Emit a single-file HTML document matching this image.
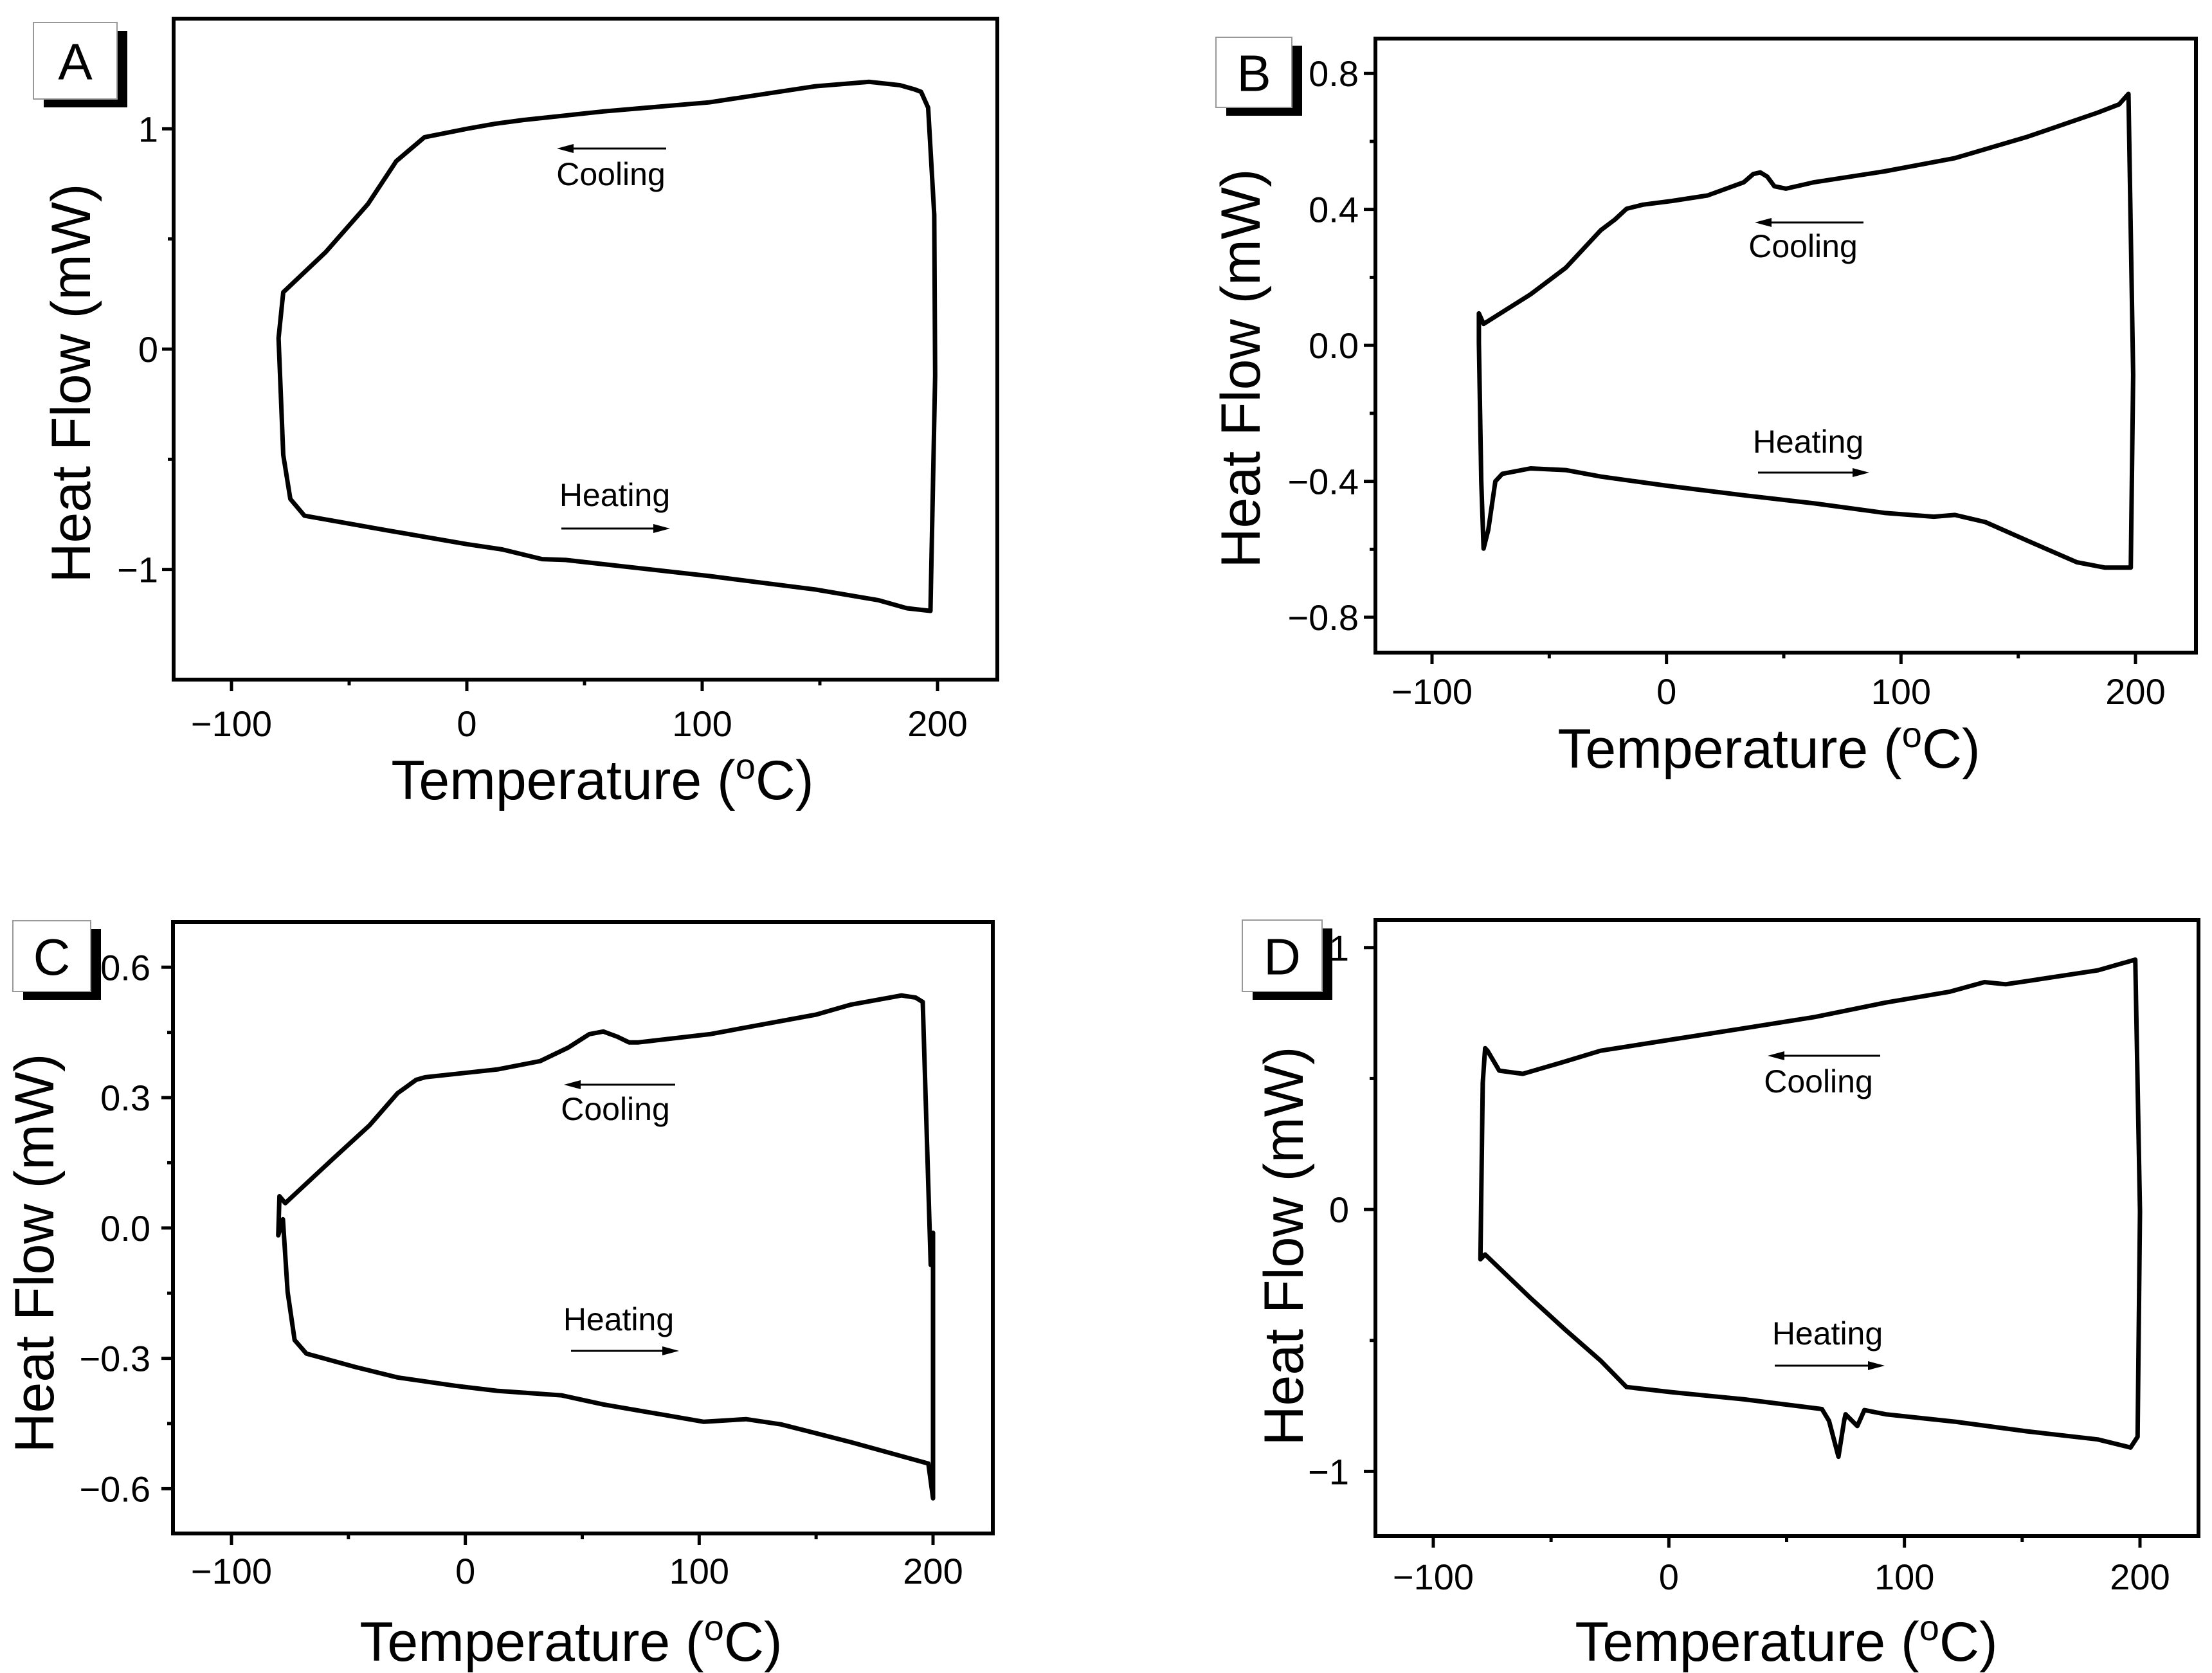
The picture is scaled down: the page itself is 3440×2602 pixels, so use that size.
<!DOCTYPE html>
<html>
<head>
<meta charset="utf-8">
<style>
html,body{margin:0;padding:0;background:#fff;}
svg{display:block;}
text{font-family:"Liberation Sans",Arial,sans-serif;fill:#000;}
</style>
</head>
<body>
<svg id="fig" width="3440" height="2602" viewBox="0 0 3440 2602" xmlns="http://www.w3.org/2000/svg"></svg>
<script>
// ---- Panel A data ----
const aCoolT  = [193,190,184,171,148,103,58,24,12,0,-18,-30,-42,-60,-78,-80,-78,-75,-69];
const aCoolHF = [1.168,1.18,1.198,1.213,1.193,1.12,1.079,1.04,1.023,1.0,0.962,0.853,0.659,0.44,0.258,0.05,-0.48,-0.68,-0.756];
const aHeatT  = [-69,-33,0,15,32,42,103,148,175,187,197,199,198.6,196,193];
const aHeatHF = [-0.756,-0.824,-0.885,-0.909,-0.953,-0.957,-1.03,-1.091,-1.14,-1.176,-1.188,-0.12,0.61,1.096,1.168];
const aYTicks = [1,0,-1];
const aYLabels = ["1","0","\u22121"];
// ---- Panel B data ----
const bCoolT  = [197,193,184,154,123,93,63,51,46,43,40,37,33,17.5,2.4,-10,-17,-22,-28,-43,-58,-78,-80,-80,-79,-78];
const bCoolHF = [0.74,0.709,0.685,0.614,0.551,0.512,0.48,0.461,0.468,0.496,0.509,0.504,0.48,0.441,0.425,0.414,0.402,0.37,0.339,0.228,0.15,0.063,0.094,0.008,-0.4,-0.598];
const bHeatT  = [-76,-73,-70,-58,-43,-28,0,33,63,93,114,123,136,154,175,187,198,199,197];
const bHeatHF = [-0.543,-0.4,-0.378,-0.362,-0.367,-0.386,-0.413,-0.441,-0.465,-0.493,-0.504,-0.499,-0.52,-0.575,-0.638,-0.654,-0.654,-0.087,0.74];
const bYTicks = [0.8,0.4,0,-0.4,-0.8];
const bYLabels = ["0.8","0.4","0.0","\u22120.4","\u22120.8"];
// ---- Panel C data ----
const cCoolT  = [195.6,192.6,186.5,165,150,104.6,74,70,65,59,53,44,32,14,-17,-21,-29,-41,-56,-77,-79.5,-80,-78,-76,-73,-68];
const cCoolHF = [0.52,0.53,0.535,0.514,0.491,0.446,0.427,0.427,0.44,0.452,0.446,0.415,0.384,0.365,0.347,0.341,0.31,0.236,0.162,0.057,0.073,-0.017,0.02,-0.147,-0.258,-0.289];
const cHeatT  = [-47,-29,-4.5,1.5,14,41,59,102,120,135,165,198,200,200,200,199,195.6];
const cHeatHF = [-0.32,-0.344,-0.363,-0.367,-0.375,-0.385,-0.406,-0.446,-0.44,-0.452,-0.493,-0.542,-0.622,-0.456,-0.011,-0.085,0.52];
const cYTicks = [0.6,0.3,0,-0.3,-0.6];
const cYLabels = ["0.6","0.3","0.0","\u22120.3","\u22120.6"];
// ---- Panel D data ----
const dCoolT  = [198,182,152,143,134,119,92,62,32,0,-29,-44,-62,-72,-77,-78,-79,-80,-78];
const dCoolHF = [0.954,0.913,0.872,0.86,0.868,0.831,0.79,0.735,0.692,0.647,0.606,0.565,0.518,0.53,0.606,0.616,0.483,-0.19,-0.172];
const dHeatT  = [-59,-44,-29,-18,1.5,32,65,68,72,74.4,75,80,83,92,122,152,182,196,199,200,198];
const dHeatHF = [-0.336,-0.459,-0.577,-0.678,-0.698,-0.725,-0.762,-0.807,-0.944,-0.807,-0.782,-0.827,-0.766,-0.782,-0.811,-0.847,-0.878,-0.909,-0.868,-0.008,0.954];
const dYTicks = [1,0,-1];
const dYLabels = ["1","0","\u22121"];
// ---- shared x axis ----
const xTicks = [-100,0,100,200];
const xLabels = ["\u2212100","0","100","200"];
const xMinor = [-50,50,150];

const NS = "http://www.w3.org/2000/svg";
const svg = document.getElementById('fig');
function mk(tag, attrs, parent){ const e=document.createElementNS(NS,tag); for(const k in attrs) e.setAttribute(k,attrs[k]); (parent||svg).appendChild(e); return e; }

const panels = [
 {id:'a', L:270,R:1551,T:29,B:1057, ymin:-1.5,ymax:1.5, coolT:aCoolT,coolHF:aCoolHF,heatT:aHeatT,heatHF:aHeatHF, yt:aYTicks,yl:aYLabels, ym:[0.5,-0.5], lab:'A', box:[52,35,130,119], ygap:18, xlabY:1145, xtitle:[937,1243], ytitle:[110,596],
  xref:[360,1458], cool:{ax1:1036,ax2:866,ay:231,tx:950,ty:288}, heat:{ax1:873,ax2:1042,ay:822,tx:956,ty:787}},
 {id:'b', L:2139,R:3415,T:60,B:1015, ymin:-0.904,ymax:0.9026, coolT:bCoolT,coolHF:bCoolHF,heatT:bHeatT,heatHF:bHeatHF, yt:bYTicks,yl:bYLabels, ym:[0.6,0.2,-0.2,-0.6], lab:'B', box:[1891,58,118,109], ygap:20, xlabY:1095, xtitle:[2751,1194], ytitle:[1929,573],
  xref:[2227,3321], cool:{ax1:2898,ax2:2729,ay:346,tx:2804,ty:400}, heat:{ax1:2734,ax2:2907,ay:735,tx:2812,ty:704}},
 {id:'c', L:269,R:1544,T:1434,B:2385, ymin:-0.703,ymax:0.704, coolT:cCoolT,coolHF:cCoolHF,heatT:cHeatT,heatHF:cHeatHF, yt:cYTicks,yl:cYLabels, ym:[0.45,0.15,-0.15,-0.45], lab:'C', box:[20,1432,121,110], ygap:29, xlabY:2463, xtitle:[888,2583], ytitle:[53,1949],
  xref:[360,1451], cool:{ax1:1050,ax2:877,ay:1687,tx:957,ty:1742}, heat:{ax1:888,ax2:1056,ay:2101,tx:962,ty:2069}},
 {id:'d', L:2139,R:3419,T:1431,B:2389, ymin:-1.247,ymax:1.105, coolT:dCoolT,coolHF:dCoolHF,heatT:dHeatT,heatHF:dHeatHF, yt:dYTicks,yl:dYLabels, ym:[0.5,-0.5], lab:'D', box:[1932,1431,124,111], ygap:35, xlabY:2472, xtitle:[2778,2583], ytitle:[1996,1938],
  xref:[2229,3328], cool:{ax1:2924,ax2:2749,ay:1642,tx:2828,ty:1699}, heat:{ax1:2760,ax2:2931,ay:2124,tx:2842,ty:2091}}
];

panels.forEach(p=>{
  const g = mk('g',{});
  
  
  const k=(p.xref[1]-p.xref[0])/300;
  const sx = t => p.xref[0] + (t+100)*k;
  const sy = v => p.B - (v - p.ymin)/(p.ymax-p.ymin)*(p.B-p.T);
  const T = p.coolT.concat(p.heatT), H = p.coolHF.concat(p.heatHF);
  let d='';
  for(let i=0;i<T.length;i++) d += (i?'L':'M') + sx(T[i]).toFixed(1)+' '+sy(H[i]).toFixed(1)+' ';
  const cur = mk('path',{d:d+'Z',fill:'none',stroke:'#000','stroke-width':7,'stroke-linejoin':'round'},g);
  
  
  const fr = mk('rect',{x:p.L,y:p.T,width:p.R-p.L,height:p.B-p.T,fill:'none',stroke:'#000','stroke-width':6},g);
  
  
  xTicks.forEach((t,i)=>{
    mk('line',{x1:sx(t),x2:sx(t),y1:p.B,y2:p.B+18,stroke:'#000','stroke-width':5},g);
    const tl = mk('text',{x:sx(t),y:p.xlabY,'font-size':56,'text-anchor':'middle'},g);
    tl.textContent = xLabels[i];
    
    
  });
  xMinor.forEach(t=>{ mk('line',{x1:sx(t),x2:sx(t),y1:p.B,y2:p.B+9,stroke:'#000','stroke-width':5},g); });
  p.yt.forEach((v,i)=>{
    mk('line',{x1:p.L-18,x2:p.L,y1:sy(v),y2:sy(v),stroke:'#000','stroke-width':5},g);
    const tl = mk('text',{x:p.L-p.ygap-6,y:sy(v)+20,'font-size':56,'text-anchor':'end'},g);
    tl.textContent = p.yl[i];
    
    
  });
  p.ym.forEach(v=>{ mk('line',{x1:p.L-9,x2:p.L,y1:sy(v),y2:sy(v),stroke:'#000','stroke-width':5},g); });
  const xt = mk('text',{x:p.xtitle[0],y:p.xtitle[1],'font-size':86,'text-anchor':'middle'},g);
  xt.innerHTML = 'Temperature (<tspan font-size="56" dy="-32">o</tspan><tspan dy="32">C)</tspan>';
  
  
  const yt = mk('text',{x:0,y:0,'font-size':86,'text-anchor':'middle',transform:`translate(${p.ytitle[0]+30},${p.ytitle[1]}) rotate(-90)`},g);
  yt.textContent = 'Heat Flow (mW)';
  
  
  const b=p.box;
  mk('rect',{x:b[0]+16,y:b[1]+13,width:b[2],height:b[3],fill:'#000'},g);
  const lb = mk('rect',{x:b[0],y:b[1],width:b[2],height:b[3],fill:'#fff',stroke:'#999','stroke-width':2},g);
  
  
  const lt = mk('text',{x:b[0]+b[2]/2,y:b[1]+b[3]/2+29,'font-size':80,'text-anchor':'middle'},g);
  lt.textContent = p.lab;
  
  
  [['cool','Cooling'],['heat','Heating']].forEach(([key,txt])=>{
    const a=p[key];
    const dir = Math.sign(a.ax2-a.ax1);
    mk('line',{x1:a.ax1,x2:a.ax2-dir*14,y1:a.ay,y2:a.ay,stroke:'#000','stroke-width':3},g);
    const ah = mk('polygon',{points:`${a.ax2},${a.ay} ${a.ax2-dir*26},${a.ay-7} ${a.ax2-dir*26},${a.ay+7}`,fill:'#000'},g);
    
    
    const at = mk('text',{x:a.tx,y:a.ty,'font-size':50,'text-anchor':'middle'},g);
    at.textContent = txt;
    
    
  });
});
</script>
</body>
</html>
